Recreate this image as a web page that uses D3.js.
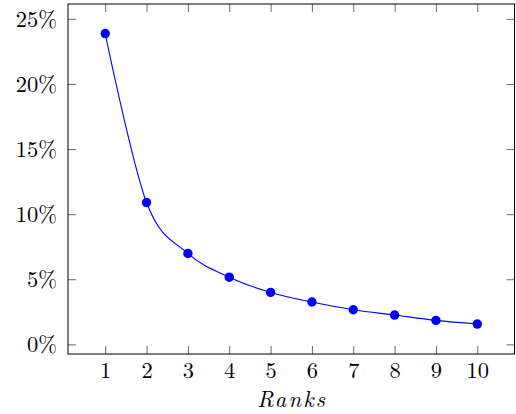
<!DOCTYPE html>
<html>
<head>
<meta charset="utf-8">
<script src="https://cdn.jsdelivr.net/npm/d3@7"></script>
<style>
  body { margin: 0; background: #fff; }
  text { font-family: "Latin Modern Roman", "CMU Serif", "Liberation Serif", serif; }
</style>
</head>
<body>
<div id="chart"></div>
<script>
const ranks = [1, 2, 3, 4, 5, 6, 7, 8, 9, 10];
const shares = [23.87, 10.89, 6.98, 5.16, 3.99, 3.25, 2.66, 2.25, 1.84, 1.56];
const yTicks = [0, 5, 10, 15, 20, 25];
const xLabel = "Ranks";

const svgWidth = 516;
const svgHeight = 414;
const box = { left: 68, right: 514.5, top: 4, bottom: 354 };

const svg = d3
  .select("#chart")
  .append("svg")
  .attr("width", svgWidth)
  .attr("height", svgHeight);

// pgfplots-style enlarged limits (10% each side)
const xScale = d3.scaleLinear().domain([0.1, 10.9]).range([box.left, box.right]);
const yScale = d3.scaleLinear().domain([-0.74, 26.14]).range([box.bottom, box.top]);

const tickLen = 8;
const fontSize = 22.5;

// ticks on all four sides, pointing inward
const xAxisBottom = d3.axisBottom(xScale).tickValues(ranks).tickSize(-tickLen).tickPadding(8);
const xAxisTop = d3.axisTop(xScale).tickValues(ranks).tickSize(-tickLen).tickFormat("");
const yAxisLeft = d3.axisLeft(yScale).tickValues(yTicks).tickSize(-tickLen).tickPadding(11)
  .tickFormat((d) => d + "%");
const yAxisRight = d3.axisRight(yScale).tickValues(yTicks).tickSize(-tickLen).tickFormat("");

function styleAxis(g) {
  g.select(".domain").remove();
  g.selectAll(".tick line").attr("stroke", "#444").attr("stroke-width", 0.8);
  g.selectAll(".tick text").attr("font-size", fontSize).attr("fill", "#000");
}

svg.append("g").attr("transform", `translate(0,${box.bottom})`).call(xAxisBottom).call(styleAxis);
svg.append("g").attr("transform", `translate(0,${box.top})`).call(xAxisTop).call(styleAxis);
svg.append("g").attr("transform", `translate(${box.left},0)`).call(yAxisLeft).call(styleAxis);
svg.append("g").attr("transform", `translate(${box.right},0)`).call(yAxisRight).call(styleAxis);

svg
  .append("rect")
  .attr("x", box.left)
  .attr("y", box.top)
  .attr("width", box.right - box.left)
  .attr("height", box.bottom - box.top)
  .attr("fill", "none")
  .attr("stroke", "#000")
  .attr("stroke-width", 1);

const line = d3
  .line()
  .x((d, i) => xScale(ranks[i]))
  .y((d) => yScale(d))
  .curve(d3.curveCardinal.tension(0));

svg
  .append("path")
  .datum(shares)
  .attr("d", line)
  .attr("fill", "none")
  .attr("stroke", "#0000ff")
  .attr("stroke-width", 1.1);

svg
  .append("g")
  .selectAll("circle")
  .data(shares)
  .join("circle")
  .attr("cx", (d, i) => xScale(ranks[i]))
  .attr("cy", (d) => yScale(d))
  .attr("r", 4.7)
  .attr("fill", "#0000ff");

// math-italic label is wider than text italic, so space the letters out
svg
  .append("text")
  .text(xLabel)
  .attr("x", (box.left + box.right) / 2 + 1)
  .attr("y", 407)
  .attr("text-anchor", "middle")
  .attr("font-size", fontSize)
  .attr("font-style", "italic")
  .attr("letter-spacing", 2.2);
</script>
</body>
</html>
